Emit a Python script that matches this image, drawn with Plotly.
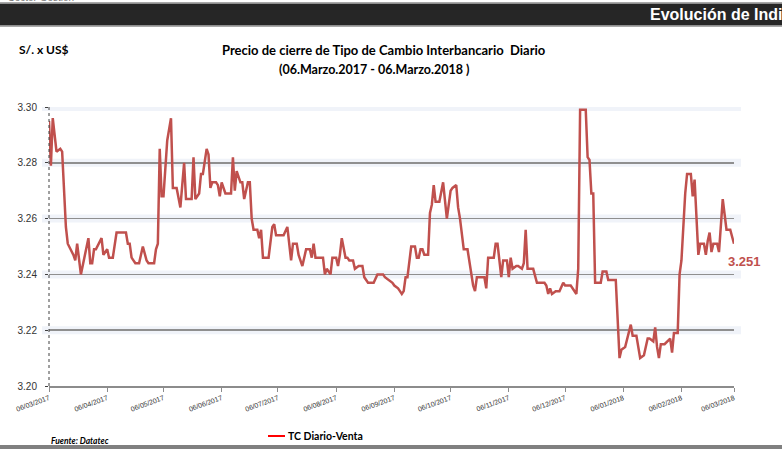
import plotly.graph_objects as go

dates = [
    "2017-03-06", "2017-03-07", "2017-03-08", "2017-03-10", "2017-03-12", "2017-03-13", "2017-03-15", "2017-03-16",
    "2017-03-19", "2017-03-20", "2017-03-21", "2017-03-22", "2017-03-23", "2017-03-27", "2017-03-28", "2017-03-29",
    "2017-03-30", "2017-03-31", "2017-04-03", "2017-04-04", "2017-04-06", "2017-04-07", "2017-04-09", "2017-04-11",
    "2017-04-16", "2017-04-17", "2017-04-18", "2017-04-19", "2017-04-21", "2017-04-23", "2017-04-25", "2017-04-27",
    "2017-04-28", "2017-05-01", "2017-05-02", "2017-05-03", "2017-05-04", "2017-05-05", "2017-05-06", "2017-05-08",
    "2017-05-10", "2017-05-11", "2017-05-13", "2017-05-15", "2017-05-17", "2017-05-18", "2017-05-21", "2017-05-22",
    "2017-05-23", "2017-05-25", "2017-05-26", "2017-05-27", "2017-05-29", "2017-05-30", "2017-05-31", "2017-06-01",
    "2017-06-03", "2017-06-04", "2017-06-05", "2017-06-06", "2017-06-08", "2017-06-11", "2017-06-12", "2017-06-13",
    "2017-06-14", "2017-06-16", "2017-06-17", "2017-06-18", "2017-06-20", "2017-06-21", "2017-06-22", "2017-06-23",
    "2017-06-25", "2017-06-26", "2017-06-27", "2017-06-28", "2017-07-01", "2017-07-03", "2017-07-04", "2017-07-05",
    "2017-07-09", "2017-07-11", "2017-07-12", "2017-07-13", "2017-07-14", "2017-07-16", "2017-07-17", "2017-07-19",
    "2017-07-21", "2017-07-23", "2017-07-24", "2017-07-25", "2017-07-26", "2017-07-30", "2017-07-31", "2017-08-01",
    "2017-08-03", "2017-08-04", "2017-08-06", "2017-08-07", "2017-08-08", "2017-08-09", "2017-08-11", "2017-08-12",
    "2017-08-13", "2017-08-15", "2017-08-16", "2017-08-18", "2017-08-20", "2017-08-21", "2017-08-23", "2017-08-26",
    "2017-08-28", "2017-08-31", "2017-09-01", "2017-09-03", "2017-09-05", "2017-09-06", "2017-09-08", "2017-09-09",
    "2017-09-10", "2017-09-11", "2017-09-12", "2017-09-13", "2017-09-15", "2017-09-17", "2017-09-18", "2017-09-19",
    "2017-09-20", "2017-09-21", "2017-09-22", "2017-09-24", "2017-09-25", "2017-09-26", "2017-09-27", "2017-09-28",
    "2017-09-30", "2017-10-02", "2017-10-03", "2017-10-04", "2017-10-06", "2017-10-07", "2017-10-09", "2017-10-10",
    "2017-10-11", "2017-10-13", "2017-10-15", "2017-10-16", "2017-10-18", "2017-10-19", "2017-10-20", "2017-10-23",
    "2017-10-24", "2017-10-25", "2017-10-26", "2017-10-29", "2017-10-30", "2017-10-31", "2017-11-01", "2017-11-02",
    "2017-11-03", "2017-11-05", "2017-11-06", "2017-11-07", "2017-11-08", "2017-11-10", "2017-11-11", "2017-11-13",
    "2017-11-14", "2017-11-15", "2017-11-16", "2017-11-19", "2017-11-21", "2017-11-25", "2017-11-26", "2017-11-27",
    "2017-11-28", "2017-11-29", "2017-12-01", "2017-12-03", "2017-12-05", "2017-12-06", "2017-12-09", "2017-12-12",
    "2017-12-13", "2017-12-14", "2017-12-17", "2017-12-18", "2017-12-19", "2017-12-20", "2017-12-21", "2017-12-22",
    "2017-12-25", "2017-12-26", "2017-12-28", "2017-12-29", "2018-01-02", "2018-01-04", "2018-01-05", "2018-01-07",
    "2018-01-10", "2018-01-11", "2018-01-13", "2018-01-15", "2018-01-17", "2018-01-19", "2018-01-20", "2018-01-22",
    "2018-01-23", "2018-01-24", "2018-01-25", "2018-01-26", "2018-01-28", "2018-01-31", "2018-02-01", "2018-02-02",
    "2018-02-04", "2018-02-05", "2018-02-06", "2018-02-08", "2018-02-09", "2018-02-11", "2018-02-12", "2018-02-13",
    "2018-02-15", "2018-02-16", "2018-02-18", "2018-02-19", "2018-02-20", "2018-02-21", "2018-02-22", "2018-02-23",
    "2018-02-25", "2018-02-26", "2018-02-28", "2018-03-02", "2018-03-04", "2018-03-06",
]

rates = [
    3.295, 3.279, 3.296, 3.284, 3.285, 3.284, 3.257, 3.251,
    3.247, 3.245, 3.251, 3.245, 3.240, 3.253, 3.244, 3.244,
    3.249, 3.249, 3.253, 3.247, 3.249, 3.246, 3.246, 3.255,
    3.255, 3.251, 3.251, 3.246, 3.244, 3.244, 3.250, 3.245,
    3.244, 3.244, 3.249, 3.251, 3.285, 3.268, 3.268, 3.288,
    3.296, 3.271, 3.271, 3.264, 3.280, 3.267, 3.267, 3.282,
    3.267, 3.269, 3.276, 3.276, 3.285, 3.283, 3.271, 3.273,
    3.273, 3.272, 3.268, 3.273, 3.269, 3.269, 3.282, 3.270,
    3.277, 3.273, 3.273, 3.267, 3.273, 3.273, 3.260, 3.256,
    3.256, 3.253, 3.256, 3.246, 3.246, 3.257, 3.258, 3.254,
    3.254, 3.257, 3.250, 3.245, 3.251, 3.251, 3.247, 3.243,
    3.249, 3.249, 3.246, 3.251, 3.246, 3.246, 3.240, 3.242,
    3.240, 3.246, 3.246, 3.243, 3.247, 3.253, 3.246, 3.246,
    3.245, 3.245, 3.242, 3.243, 3.243, 3.239, 3.237, 3.237,
    3.240, 3.240, 3.239, 3.238, 3.237, 3.236, 3.235, 3.234,
    3.233, 3.234, 3.239, 3.239, 3.250, 3.250, 3.246, 3.246,
    3.249, 3.249, 3.247, 3.247, 3.262, 3.265, 3.272, 3.266,
    3.266, 3.273, 3.265, 3.260, 3.270, 3.271, 3.272, 3.264,
    3.260, 3.249, 3.249, 3.245, 3.236, 3.234, 3.239, 3.239,
    3.239, 3.235, 3.246, 3.246, 3.251, 3.251, 3.245, 3.239,
    3.245, 3.245, 3.239, 3.246, 3.242, 3.243, 3.243, 3.242,
    3.244, 3.256, 3.242, 3.242, 3.237, 3.237, 3.236, 3.233,
    3.235, 3.233, 3.234, 3.234, 3.237, 3.236, 3.236, 3.233,
    3.242, 3.299, 3.299, 3.282, 3.281, 3.269, 3.269, 3.237,
    3.237, 3.241, 3.241, 3.238, 3.238, 3.210, 3.213, 3.214,
    3.222, 3.218, 3.218, 3.210, 3.211, 3.217, 3.217, 3.216,
    3.221, 3.214, 3.210, 3.215, 3.215, 3.217, 3.212, 3.219,
    3.219, 3.240, 3.245, 3.269, 3.276, 3.276, 3.268, 3.274,
    3.247, 3.251, 3.251, 3.247, 3.252, 3.255, 3.248, 3.251,
    3.251, 3.248, 3.267, 3.256, 3.256, 3.251,
]

tick_dates = ["2017-03-06", "2017-04-06", "2017-05-06", "2017-06-06", "2017-07-06", "2017-08-06",
              "2017-09-06", "2017-10-06", "2017-11-06", "2017-12-06", "2018-01-06", "2018-02-06", "2018-03-06"]
tick_labels = ["06/03/2017", "06/04/2017", "06/05/2017", "06/06/2017", "06/07/2017", "06/08/2017",
               "06/09/2017", "06/10/2017", "06/11/2017", "06/12/2017", "06/01/2018", "06/02/2018", "06/03/2018"]
grid_values = [3.22, 3.24, 3.26, 3.28, 3.30]

series_name = "TC Diario-Venta"
last_label = "3.251"

W, H = 782, 449
L, R, T, B = 49, 734, 107, 386


def px(x):
    return (x - L) / (R - L)


def py(y):
    return (B - y) / (B - T)


LINE_COLOR = "#C0504D"
FONT = "Liberation Sans"
TFONT = "Lato"

fig = go.Figure()
fig.add_trace(go.Scatter(
    x=dates, y=rates, mode="lines", name=series_name,
    line=dict(color=LINE_COLOR, width=2.5), showlegend=False, hoverinfo="skip",
))

shapes = []
# soft glow behind gridlines
for g in grid_values:
    shapes.append(dict(type="line", xref="paper", yref="y", x0=px(42), x1=px(741), y0=g, y1=g,
                       line=dict(color="rgba(226,232,243,0.5)", width=8), layer="below"))
# dotted y-axis line
shapes.append(dict(type="line", xref="paper", yref="paper", x0=0, x1=0, y0=0, y1=1,
                   line=dict(color="#404040", width=1, dash="dot")))
# header band
shapes.append(dict(type="rect", xref="paper", yref="paper", x0=px(-5), x1=px(790), y0=py(25.5), y1=py(3.5),
                   fillcolor="#262626", line=dict(width=0)))
shapes.append(dict(type="line", xref="paper", yref="paper", x0=px(-5), x1=px(790), y0=py(3), y1=py(3),
                   line=dict(color="#8c8c8c", width=1.5)))
shapes.append(dict(type="line", xref="paper", yref="paper", x0=px(-5), x1=px(790), y0=py(26), y1=py(26),
                   line=dict(color="#8c8c8c", width=1.5)))
# bottom band
shapes.append(dict(type="rect", xref="paper", yref="paper", x0=px(-5), x1=px(790), y0=py(452), y1=py(445),
                   fillcolor="#808080", line=dict(width=0)))
# legend line
shapes.append(dict(type="line", xref="paper", yref="paper", x0=px(268), x1=px(285), y0=py(436), y1=py(436),
                   line=dict(color="#FF0000", width=2)))

annotations = [
    dict(text="Sector Gestión", xref="paper", yref="paper", x=px(6), y=py(-3), xanchor="left", yanchor="middle",
         showarrow=False, font=dict(family=FONT, size=10, color="#7a7a7a")),
    dict(text="<b>Evolución de Indi</b>", xref="paper", yref="paper", x=px(784), y=py(14.5),
         xanchor="right", yanchor="middle", showarrow=False, font=dict(family=FONT, size=16, color="#ffffff")),
    dict(text="<b>S/. x US$</b>", xref="paper", yref="paper", x=px(17), y=py(50), xanchor="left", yanchor="middle",
         showarrow=False, font=dict(family=TFONT, size=12, color="#000000")),
    dict(text="<b>Precio de cierre de Tipo de Cambio Interbancario  Diario</b>", xref="paper", yref="paper",
         x=px(384), y=py(50), xanchor="center", yanchor="middle", showarrow=False,
         font=dict(family=TFONT, size=13, color="#000000")),
    dict(text="<b>(06.Marzo.2017 - 06.Marzo.2018 )</b>", xref="paper", yref="paper",
         x=px(374), y=py(69), xanchor="center", yanchor="middle", showarrow=False,
         font=dict(family=TFONT, size=12.5, color="#000000")),
    dict(text="<b>" + last_label + "</b>", x=dates[-1], y=rates[-1], xref="x", yref="y",
         xanchor="left", yanchor="middle", xshift=-8, yshift=-18, showarrow=False,
         font=dict(family=FONT, size=13, color=LINE_COLOR)),
    dict(text="<b><i>Fuente: Datatec</i></b>", xref="paper", yref="paper", x=px(49), y=py(441),
         xanchor="left", yanchor="middle", showarrow=False, font=dict(family=TFONT, size=8.5, color="#000000")),
    dict(text="<b>" + series_name + "</b>", xref="paper", yref="paper", x=px(286), y=py(436),
         xanchor="left", yanchor="middle", showarrow=False, font=dict(family=TFONT, size=10.5, color="#000000")),
]

fig.update_layout(
    width=W, height=H, autosize=False,
    margin=dict(l=L, r=W - R, t=T, b=H - B, pad=0),
    paper_bgcolor="#ffffff", plot_bgcolor="rgba(0,0,0,0)",
    shapes=shapes, annotations=annotations, showlegend=False, hovermode=False,
    xaxis=dict(
        type="date", range=["2017-03-06", "2018-03-06"],
        tickmode="array", tickvals=tick_dates, ticktext=tick_labels, tickangle=-20,
        tickfont=dict(family=FONT, size=7, color="#333333"),
        showgrid=False, zeroline=False,
        showline=True, linecolor="#8c8c8c", linewidth=1.5,
        ticks="outside", ticklen=4, tickcolor="#8c8c8c", tickwidth=1,
    ),
    yaxis=dict(
        range=[3.20, 3.30], tickmode="array", tickvals=[3.20] + grid_values,
        ticktext=["%.2f" % v for v in [3.20] + grid_values],
        tickfont=dict(family=FONT, size=10, color="#333333"),
        showgrid=True, gridcolor="#8f8f8f", gridwidth=1.5,
        zeroline=False, showline=False,
        ticks="outside", ticklen=3, tickcolor="#404040", tickwidth=1,
        ticklabelstandoff=6,
    ),
)

fig.write_html(
    "out.html",
    config={"displayModeBar": False, "staticPlot": True},
    post_script="document.body.style.margin='0';document.body.style.padding='0';"
                "document.body.style.overflow='hidden';",
)
